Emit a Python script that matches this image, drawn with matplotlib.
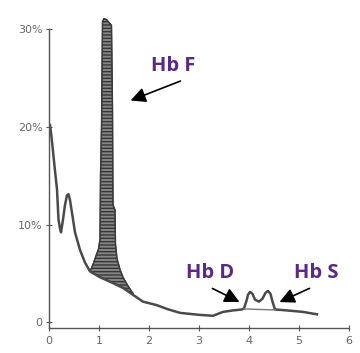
import numpy as np
import matplotlib
matplotlib.use("Agg")
import matplotlib.pyplot as plt

# trace du chromatogramme (ligne de base + petits pics)
trace_x = [0.02, 0.05, 0.08, 0.12, 0.16, 0.19, 0.22, 0.24, 0.28, 0.32, 0.36, 0.39,
           0.42, 0.46, 0.52, 0.62, 0.72, 0.82, 1.02, 1.28, 1.48, 1.68, 1.88, 2.15,
           2.36, 2.62, 3.0, 3.28, 3.48, 3.68, 3.86, 3.9, 3.95, 3.98, 4.02, 4.07,
           4.12, 4.2, 4.27, 4.33, 4.38, 4.43, 4.47, 4.52, 4.76, 5.08, 5.36]
trace_y = [20.2, 19.0, 17.5, 15.5, 13.6, 10.5, 9.6, 9.2, 10.5, 12.0, 13.0, 13.1,
           12.5, 11.2, 9.2, 7.4, 6.1, 5.2, 4.6, 4.0, 3.5, 2.8, 2.1, 1.75,
           1.35, 0.95, 0.75, 0.65, 1.05, 1.2, 1.3, 1.4, 2.2, 2.8, 3.1, 2.9,
           2.3, 2.1, 2.4, 3.0, 3.2, 2.9, 2.1, 1.3, 1.2, 1.05, 0.8]

# ligne de base sous les pics Hb D / Hb S
sous_x = [3.9, 4.52]
sous_y = [1.35, 1.25]

# pic Hb F (zone hachurée)
hbf_x = [0.82, 0.88, 0.94, 0.99, 1.02, 1.03, 1.05, 1.07, 1.1, 1.15, 1.2, 1.25,
         1.27, 1.28, 1.32, 1.33, 1.36, 1.42, 1.48, 1.58, 1.68]
hbf_top = [5.2, 5.9, 6.8, 7.5, 8.5, 15.0, 20.0, 30.8, 31.1, 31.0, 30.7, 30.4,
           22.0, 12.0, 11.5, 8.0, 6.5, 5.4, 4.6, 3.7, 2.95]
hbf_base = [5.2, 5.0, 4.85, 4.7, 4.6, 4.58, 4.53, 4.5, 4.42, 4.3, 4.2, 4.1,
            4.05, 4.0, 3.9, 3.88, 3.8, 3.65, 3.5, 3.15, 2.8]

xticks = [0, 1, 2, 3, 4, 5, 6]
yticks = [0, 10, 20, 30]
ytick_labels = ["0", "10%", "20%", "30%"]

purple = "#5b2a84"
grey = "#555555"

fig = plt.figure(figsize=(3.6, 3.53), dpi=100)
ax = fig.add_axes([49 / 360, 1 - 328 / 353, 300 / 360, 328 / 353])

ax.fill_between(hbf_x, hbf_base, hbf_top, facecolor="#858585", edgecolor="#363636",
                hatch="-----", linewidth=0.8)
ax.plot(hbf_x, hbf_top, color="#3a3a3a", lw=1.0)
ax.plot(trace_x, trace_y, color="#4a4a4a", lw=1.8)
ax.plot(sous_x, sous_y, color="#777777", lw=1.0)

ax.set_xlim(0, 6)
ax.set_ylim(-0.6, 33.0)
for s in ["top", "right"]:
    ax.spines[s].set_visible(False)
ax.spines["left"].set_bounds(-0.6, 30)
for s in ["left", "bottom"]:
    ax.spines[s].set_color(grey)
    ax.spines[s].set_linewidth(1.0)

ax.set_xticks(xticks)
ax.set_yticks(yticks)
ax.set_yticklabels(ytick_labels)
ax.tick_params(axis="both", direction="inout", length=5, width=0.8, colors=grey,
               labelsize=8, labelcolor="#666666")
ax.tick_params(axis="y", pad=2)

arrow = dict(arrowstyle="-|>,head_length=0.9,head_width=0.45", color="black", lw=1.2)
ax.annotate("", xy=(1.58, 22.6), xytext=(2.68, 24.8), arrowprops=arrow)
ax.annotate("", xy=(3.86, 1.94), xytext=(3.22, 3.58), arrowprops=arrow)
ax.annotate("", xy=(4.56, 1.94), xytext=(5.26, 3.58), arrowprops=arrow)

lbl = dict(color=purple, fontsize=14.5, fontweight="bold", family="Open Sans",
           ha="center", va="center")
ax.text(2.48, 26.2, "Hb F", **lbl)
ax.text(3.22, 5.0, "Hb D", **lbl)
ax.text(5.34, 5.0, "Hb S", **lbl)

fig.savefig("out.png", dpi=100)
